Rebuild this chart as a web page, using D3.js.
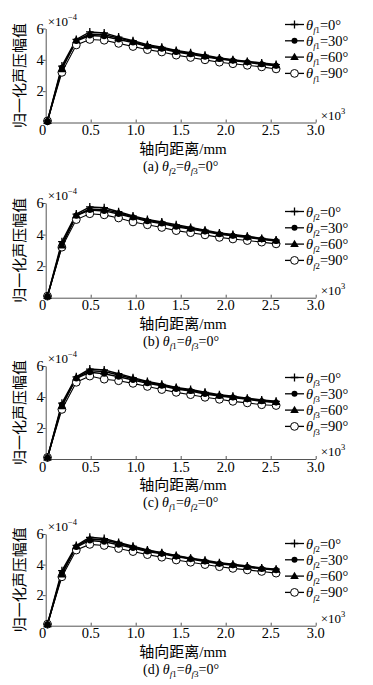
<!DOCTYPE html>
<html><head><meta charset="utf-8">
<script src="https://cdn.jsdelivr.net/npm/d3@7"></script>
<style>body{margin:0;background:#fff}svg{display:block}</style>
</head><body><svg id="c" width="373" height="685"></svg>
<script>
// ---- data ----
const xValues = [0.02,0.18,0.34,0.49,0.65,0.81,0.97,1.13,1.29,1.45,1.61,1.77,1.93,2.08,2.24,2.40,2.56];
const angleLabels = ["0°","30°","60°","90°"];
const xTicks = [0,0.5,1.0,1.5,2.0,2.5,3.0];
const xTickLabels = ["0","0.5","1.0","1.5","2.0","2.5","3.0"];
const yTicks = [2,4,6];
const panelLetters = ["(a)","(b)","(c)","(d)"];
const legendSubs = ["f1","f2","f3","f2"];
const captionSubs = [["f2","f3"],["f1","f3"],["f1","f2"],["f1","f3"]];

const panelA = [
  [0.1,3.6,5.3,5.78,5.72,5.45,5.22,4.97,4.8,4.6,4.45,4.3,4.12,4.0,3.9,3.8,3.7],
  [0.1,3.5,5.2,5.55,5.5,5.3,5.1,4.85,4.7,4.5,4.35,4.2,4.05,3.95,3.85,3.72,3.62],
  [0.1,3.4,5.25,5.65,5.6,5.4,5.15,4.9,4.75,4.55,4.4,4.25,4.08,3.97,3.87,3.75,3.65],
  [0.1,3.2,4.95,5.3,5.25,5.05,4.85,4.65,4.5,4.3,4.15,4.0,3.85,3.75,3.65,3.55,3.42]
];
const panelB = [
  [0.1,3.55,5.3,5.75,5.7,5.45,5.18,4.95,4.8,4.62,4.45,4.28,4.1,4.0,3.9,3.75,3.65],
  [0.1,3.4,5.2,5.55,5.5,5.3,5.08,4.85,4.7,4.5,4.35,4.2,4.02,3.92,3.82,3.7,3.6],
  [0.1,3.3,5.22,5.62,5.58,5.38,5.12,4.9,4.75,4.55,4.4,4.24,4.06,3.96,3.86,3.72,3.62],
  [0.1,3.2,4.95,5.32,5.25,5.05,4.8,4.62,4.45,4.25,4.12,3.98,3.82,3.72,3.62,3.52,3.41]
];
const panelC = [
  [0.1,3.6,5.3,5.8,5.75,5.5,5.25,5.0,4.82,4.62,4.48,4.3,4.15,4.05,3.92,3.8,3.72],
  [0.1,3.5,5.2,5.6,5.5,5.3,5.1,4.88,4.72,4.52,4.38,4.2,4.06,3.96,3.85,3.72,3.65],
  [0.1,3.4,5.25,5.7,5.65,5.42,5.18,4.95,4.78,4.58,4.42,4.26,4.1,4.0,3.88,3.76,3.68],
  [0.1,3.2,4.95,5.35,5.15,5.05,4.88,4.68,4.48,4.3,4.15,3.98,3.85,3.72,3.62,3.5,3.45]
];
const panelD = [
  [0.1,3.6,5.25,5.78,5.7,5.45,5.2,4.95,4.78,4.6,4.42,4.28,4.12,4.02,3.9,3.78,3.7],
  [0.1,3.45,5.15,5.58,5.5,5.3,5.08,4.86,4.7,4.52,4.36,4.2,4.05,3.95,3.84,3.72,3.64],
  [0.1,3.35,5.2,5.68,5.6,5.4,5.15,4.92,4.75,4.56,4.4,4.24,4.08,3.98,3.86,3.74,3.66],
  [0.1,3.2,4.95,5.32,5.25,5.05,4.85,4.65,4.48,4.3,4.15,4.0,3.86,3.75,3.65,3.55,3.44]
];
const panels = [panelA, panelB, panelC, panelD];

// ---- layout ----
const svg = d3.select("#c");
const layout = [
  {top:28.5, bottom:122.5, legendY:24.5},
  {top:203, bottom:297.7, legendY:211.5},
  {top:366, bottom:459, legendY:377.5},
  {top:534, bottom:625.7, legendY:543.5}
];
const left = 45.7, right = 315.7;
const serif = "Liberation Serif, DejaVu Serif, serif";
const cjk = "Noto Sans CJK SC, Noto Sans CJK JP, sans-serif";
const axisColor = "#555";

const x = d3.scaleLinear().domain([0,3]).range([left,right]);

function marker(g, type, cx, cy){
  if(type===0){
    g.append("path").attr("d",`M${cx-3.8},${cy}H${cx+3.8}M${cx},${cy-4}V${cy+4}`)
      .attr("stroke","#000").attr("stroke-width",1.3).attr("fill","none");
  } else if(type===1){
    g.append("circle").attr("cx",cx).attr("cy",cy).attr("r",3).attr("fill","#000");
  } else if(type===2){
    g.append("path").attr("d",d3.symbol(d3.symbolTriangle,32)())
      .attr("transform",`translate(${cx},${cy+0.5})`).attr("fill","#000");
  } else {
    g.append("circle").attr("cx",cx).attr("cy",cy).attr("r",3.9)
      .attr("fill","#fff").attr("stroke","#000").attr("stroke-width",1);
  }
}

function thetaText(g, xPos, yPos, sub, rest, size){
  const t = g.append("text").attr("x",xPos).attr("y",yPos)
    .style("font-family",serif).attr("font-size",size).attr("fill","#000");
  t.append("tspan").attr("font-style","italic").text("θ");
  t.append("tspan").attr("font-style","italic").attr("font-size",size*0.6).attr("dy",size*0.22).text(sub[0]);
  t.append("tspan").attr("font-size",size*0.6).text(sub.slice(1));
  t.append("tspan").attr("dy",-size*0.22).text(rest);
  return t;
}

panels.forEach((series, pi) => {
  const L = layout[pi];
  const y = d3.scaleLinear().domain([0,6]).range([L.bottom, L.top]);
  const g = svg.append("g");

  // axes
  const xAxis = d3.axisBottom(x).tickValues(xTicks).tickSizeInner(-3).tickSizeOuter(0).tickFormat("");
  const gx = g.append("g").attr("transform",`translate(0,${L.bottom})`).call(xAxis);
  gx.selectAll("path,line").attr("stroke",axisColor);
  const yAxis = d3.axisLeft(y).tickValues(yTicks).tickSizeInner(3).tickSizeOuter(0).tickFormat("");
  const gy = g.append("g").attr("transform",`translate(${left},0)`).call(yAxis);
  gy.selectAll("path,line").attr("stroke",axisColor);

  // x tick labels
  xTicks.forEach((v,i)=>{
    g.append("text").attr("x", x(v) + (i===0?-3:0)).attr("y", L.bottom+12.5)
      .attr("text-anchor","middle").style("font-family",serif).attr("font-size",14.5)
      .text(xTickLabels[i]);
  });
  yTicks.forEach(v=>{
    g.append("text").attr("x", left-2).attr("y", y(v)+5)
      .attr("text-anchor","end").style("font-family",serif).attr("font-size",14.5).text(v);
  });

  // exponent labels
  const e1 = g.append("text").attr("x",left+2).attr("y",L.top-3)
    .style("font-family",serif).attr("font-size",13).text("×10");
  e1.append("tspan").attr("font-size",8.5).attr("dy",-6).text("−4");
  const e2 = g.append("text").attr("x",right+5).attr("y",L.bottom-3)
    .style("font-family",serif).attr("font-size",13).text("×10");
  e2.append("tspan").attr("font-size",8.5).attr("dy",-6).text("3");

  // y label
  g.append("text").attr("transform",`translate(25,${(L.top+L.bottom)/2}) rotate(-90)`)
    .attr("text-anchor","middle").style("font-family",cjk).attr("font-size",15).text("归一化声压幅值");

  // x label
  const xl = g.append("text").attr("x",183).attr("y",L.bottom+31).attr("text-anchor","middle")
    .attr("font-size",15);
  xl.append("tspan").style("font-family",cjk).text("轴向距离");
  xl.append("tspan").style("font-family",serif).text("/mm");

  // caption
  const cap = g.append("text").attr("x",143).attr("y",L.bottom+48)
    .style("font-family",serif).attr("font-size",14);
  const cs = captionSubs[pi];
  cap.append("tspan").text(panelLetters[pi]+" ");
  cap.append("tspan").attr("font-style","italic").text("θ");
  cap.append("tspan").attr("font-style","italic").attr("font-size",9).attr("dy",3).text(cs[0][0]);
  cap.append("tspan").attr("font-size",9).text(cs[0].slice(1));
  cap.append("tspan").attr("dy",-3).text("=");
  cap.append("tspan").attr("font-style","italic").text("θ");
  cap.append("tspan").attr("font-style","italic").attr("font-size",9).attr("dy",3).text(cs[1][0]);
  cap.append("tspan").attr("font-size",9).text(cs[1].slice(1));
  cap.append("tspan").attr("dy",-3).text("=0°");

  // series lines & markers (open circles first so filled markers stay on top)
  const line = d3.line().x((d,i)=>x(xValues[i])).y(d=>y(d));
  const order = [3,0,1,2];
  order.forEach(si=>{
    g.append("path").datum(series[si]).attr("d",line)
      .attr("fill","none").attr("stroke","#000").attr("stroke-width",si===3?1.1:1.5);
  });
  order.forEach(si=>{
    const mg = g.append("g");
    series[si].forEach((v,i)=>marker(mg, si, x(xValues[i]), y(v)));
  });

  // legend
  angleLabels.forEach((lab,si)=>{
    const ry = L.legendY + si*16.3;
    g.append("line").attr("x1",285).attr("x2",304).attr("y1",ry).attr("y2",ry)
      .attr("stroke","#000").attr("stroke-width",1.3);
    marker(g, si, 294.5, ry);
    thetaText(g, 306, ry+5, legendSubs[pi], "="+lab, 14.5);
  });
});
</script></body></html>
